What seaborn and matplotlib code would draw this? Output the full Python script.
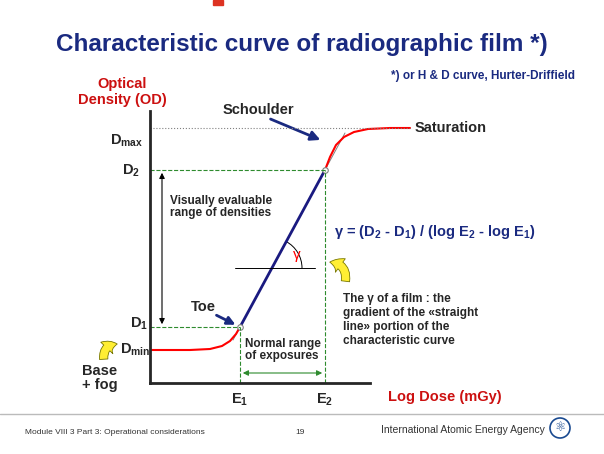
import matplotlib.pyplot as plt
import seaborn as sns
import pandas as pd
from matplotlib.patches import FancyArrowPatch, Arc, Circle

sns.set_style("white")
plt.rcParams["font.family"] = ["Liberation Sans", "DejaVu Sans"]

# data units: log dose (x) and optical density (y), arbitrary scale
toe_x = [0, 40, 60, 72, 80, 86, 90]
toe_y = [33, 33, 34, 37, 42, 49, 56]
line_x = [90, 175]
line_y = [56, 213]
shoulder_x = [175, 180, 186, 194, 204, 218, 240, 260]
shoulder_y = [213, 226, 238, 246, 251, 254, 255, 255]
tangent_x = [83, 195]
tangent_y = [43, 250]
e1, e2 = 90, 175
d_min, d1, d2, d_max = 33, 56, 213, 255

W, H = 604, 454
fig = plt.figure(figsize=(W / 100, H / 100), dpi=100)
bg = fig.add_axes([0, 0, 1, 1])
bg.set_xlim(0, W)
bg.set_ylim(H, 0)
bg.axis("off")

ax = fig.add_axes([150 / W, (H - 383) / H, 370 / W, 272 / H])
ax.set_xlim(0, 370)
ax.set_ylim(0, 272)
ax.patch.set_alpha(0)
for s in ["top", "right"]:
    ax.spines[s].set_visible(False)
for s in ["left", "bottom"]:
    ax.spines[s].set_linewidth(2)
ax.spines["bottom"].set_bounds(0, 220)
ax.set_xticks([])
ax.set_yticks([])
ax.set_clip_on(False)

ax.plot(tangent_x, tangent_y, color="gray", lw=0.7)
sns.lineplot(x=toe_x, y=toe_y, ax=ax, color="red", lw=1.5, sort=False)
sns.lineplot(x=line_x, y=line_y, ax=ax, color="#1a1a80", lw=2, sort=False)
sns.lineplot(x=shoulder_x, y=shoulder_y, ax=ax, color="red", lw=1.5, sort=False)
ax.plot([e1, e2], [d1, d2], "o", ms=4, mfc="white", mec="gray", mew=0.8)

g = "#2e8b2e"
ax.plot([0, e2], [d2, d2], color=g, ls="--", lw=0.8)
ax.plot([0, e1], [d1, d1], color=g, ls="--", lw=0.8)
ax.plot([e2, e2], [0, d2], color=g, ls="--", lw=0.8)
ax.plot([e1, e1], [0, d1], color=g, ls="--", lw=0.8)
ax.plot([0, 260], [d_max, d_max], color="gray", ls=":", lw=0.8)
ax.annotate("", xy=(12, d2), xytext=(12, d1),
            arrowprops=dict(arrowstyle="<|-|>", color="black", lw=0.8, mutation_scale=8))
ax.annotate("", xy=(e1, 10), xytext=(e2, 10),
            arrowprops=dict(arrowstyle="<|-|>", color=g, lw=0.8, mutation_scale=8))
ax.plot([85, 165], [115, 115], color="black", lw=0.7)
ax.add_patch(Arc((122, 115), 60, 60, theta1=0, theta2=62, color="black", lw=0.7))
ax.text(147, 128, "γ", color="red", fontsize=11, ha="center", va="center")

# slide decorations
bg.text(302, 45, "Characteristic curve of radiographic film *)", color="#1a2a80",
        fontsize=17.5, fontweight="bold", ha="center", va="center")
bg.text(575, 76, "*) or H & D curve, Hurter-Driffield", color="#1a2a80",
        fontsize=8.5, fontweight="bold", ha="right", va="center")
bg.text(122, 92, "Optical\nDensity (OD)", color="#cc1010", fontsize=10.5,
        fontweight="bold", ha="center", va="center", linespacing=1.1)
bg.text(445, 397, "Log Dose (mGy)", color="#cc1010", fontsize=10.5,
        fontweight="bold", ha="center", va="center")
lab = dict(fontsize=10.5, fontweight="bold", va="center")
bg.text(110, 141, r"D$_{\mathregular{max}}$", ha="left", **lab)
bg.text(122, 171, r"D$_{\mathregular{2}}$", ha="left", **lab)
bg.text(130, 324, r"D$_{\mathregular{1}}$", ha="left", **lab)
bg.text(120, 350, r"D$_{\mathregular{min}}$", ha="left", **lab)
bg.text(100, 378, "Base\n+ fog", ha="center", linespacing=1.0, **lab)
bg.text(240, 400, r"E$_{\mathregular{1}}$", ha="center", **lab)
bg.text(325, 400, r"E$_{\mathregular{2}}$", ha="center", **lab)
bg.text(415, 128, "Saturation", ha="left", **lab)
bg.text(258, 110, "Schoulder", ha="center", fontsize=10.5, fontweight="bold", va="center")
bg.text(203, 307, "Toe", ha="center", **lab)
bg.text(170, 207, "Visually evaluable\nrange of densities", ha="left", fontsize=8.5,
        fontweight="bold", va="center", linespacing=1.1)
bg.text(245, 350, "Normal range\nof exposures", ha="left", fontsize=8.5,
        fontweight="bold", va="center", linespacing=1.0)
bg.text(334, 232, r"γ = (D$_{\mathregular{2}}$ - D$_{\mathregular{1}}$) / (log E$_{\mathregular{2}}$ - log E$_{\mathregular{1}}$)",
        color="#1a2a80", fontsize=10.5, fontweight="bold", va="center")
bg.text(343, 320, "The γ of a film : the\ngradient of the «straight\nline» portion of the\ncharacteristic curve",
        fontsize=8.5, fontweight="bold", va="center", linespacing=1.2)
bg.annotate("", xy=(323, 141), xytext=(268, 118),
            arrowprops=dict(arrowstyle="-|>", color="#1a2a80", lw=2, mutation_scale=14))
bg.annotate("", xy=(238, 326), xytext=(214, 314),
            arrowprops=dict(arrowstyle="-|>", color="#1a2a80", lw=2, mutation_scale=12))
for (x0, y0, x1, y1, rad) in [(104, 362, 120, 344, -0.6), (345, 284, 327, 262, 0.6)]:
    bg.add_patch(FancyArrowPatch((x0, y0), (x1, y1), connectionstyle=f"arc3,rad={rad}",
                                 arrowstyle="simple,head_width=12,head_length=8,tail_width=6",
                                 fc="#ffee33", ec="#777700", lw=0.6))
bg.plot([0, W], [414, 414], color="#bbbbbb", lw=1)
bg.text(25, 432, "Module VIII 3 Part 3: Operational considerations", fontsize=6, va="center", color="#333333")
bg.text(300, 432, "19", fontsize=6, va="center", ha="center", color="#333333")
bg.text(545, 430, "International Atomic Energy Agency", fontsize=7.5, va="center",
        ha="right", color="#333333")
bg.add_patch(Circle((560, 428), 10, fc="white", ec="#1a4a90", lw=1.2))
bg.text(560, 428, "⚛", fontsize=9, ha="center", va="center", color="#1a4a90")
bg.add_patch(plt.Rectangle((213, 0), 10, 5, color="#dd3322"))

fig.savefig("out.png", dpi=100)
